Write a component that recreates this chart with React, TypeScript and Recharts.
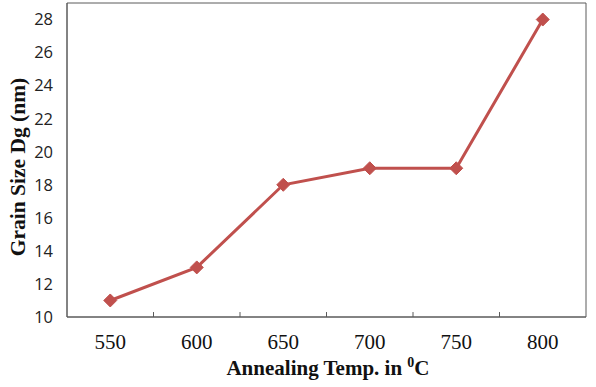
import React from "react";
import {
  LineChart,
  Line,
  XAxis,
  YAxis,
  ReferenceArea,
  ReferenceLine,
  Label,
} from "recharts";

const temps = [550, 600, 650, 700, 750, 800];
const grainSize = [11, 13, 18, 19, 19, 28];
const yTicks = [10, 12, 14, 16, 18, 20, 22, 24, 26, 28];
const dividerTicks = [575, 625, 675, 725, 775];

const data = temps.map((t, i) => ({ temp: t, size: grainSize[i] }));

const RED = "#C0504D";
const FRAME = "#5a5a5a";

function Diamond(props: any) {
  const { cx, cy } = props;
  if (cx == null || cy == null) return null;
  const r = 6.5;
  return (
    <polygon
      points={`${cx},${cy - r} ${cx + r},${cy} ${cx},${cy + r} ${cx - r},${cy}`}
      fill={RED}
      stroke={RED}
    />
  );
}

export default function App() {
  return (
    <div style={{ position: "fixed", left: 0, top: 0, width: 596, height: 387, background: "#fff" }}>
      <LineChart
        width={596}
        height={387}
        data={data}
        margin={{ top: 3, right: 10, bottom: 0, left: 0 }}
      >
        <ReferenceArea
          x1={525}
          x2={825}
          y1={10}
          y2={29}
          fill="none"
          stroke={FRAME}
          strokeWidth={1}
          ifOverflow="visible"
        />
        {/* small inward tick marks between the categories */}
        {dividerTicks.map((t) => (
          <ReferenceLine
            key={t}
            segment={[
              { x: t, y: 10 },
              { x: t, y: 10.3 },
            ]}
            stroke={FRAME}
            strokeWidth={1}
          />
        ))}
        <XAxis
          dataKey="temp"
          type="number"
          domain={[525, 825]}
          ticks={temps}
          height={70}
          axisLine={{ stroke: FRAME }}
          tickLine={false}
          tickSize={0}
          tickMargin={17}
          tick={{ fill: "#111", fontFamily: "Liberation Serif", fontSize: 21 }}
        >
          <Label
            content={() => (
              <text
                x={328}
                y={375}
                textAnchor="middle"
                fontFamily="Liberation Serif"
                fontWeight="bold"
                fontSize={21}
                fill="#111"
              >
                Annealing Temp. in{" "}
                <tspan fontSize={14} dy={-8}>0</tspan>
                <tspan dy={8}>C</tspan>
              </text>
            )}
          />
        </XAxis>
        <YAxis
          type="number"
          domain={[10, 29]}
          ticks={yTicks}
          width={67}
          axisLine={{ stroke: FRAME }}
          tickLine={false}
          tickSize={0}
          tickMargin={14}
          tick={{ fill: "#222", fontFamily: "Open Sans", fontSize: 16.5 }}
        >
          <Label
            content={() => (
              <text
                x={25}
                y={167}
                transform="rotate(-90 25 167)"
                textAnchor="middle"
                fontFamily="Liberation Serif"
                fontWeight="bold"
                fontSize={21.5}
                fill="#111"
              >
                Grain Size Dg (nm)
              </text>
            )}
          />
        </YAxis>
        <Line
          type="linear"
          dataKey="size"
          stroke={RED}
          strokeWidth={3}
          dot={<Diamond />}
          activeDot={false}
          isAnimationActive={false}
        />
      </LineChart>
    </div>
  );
}
